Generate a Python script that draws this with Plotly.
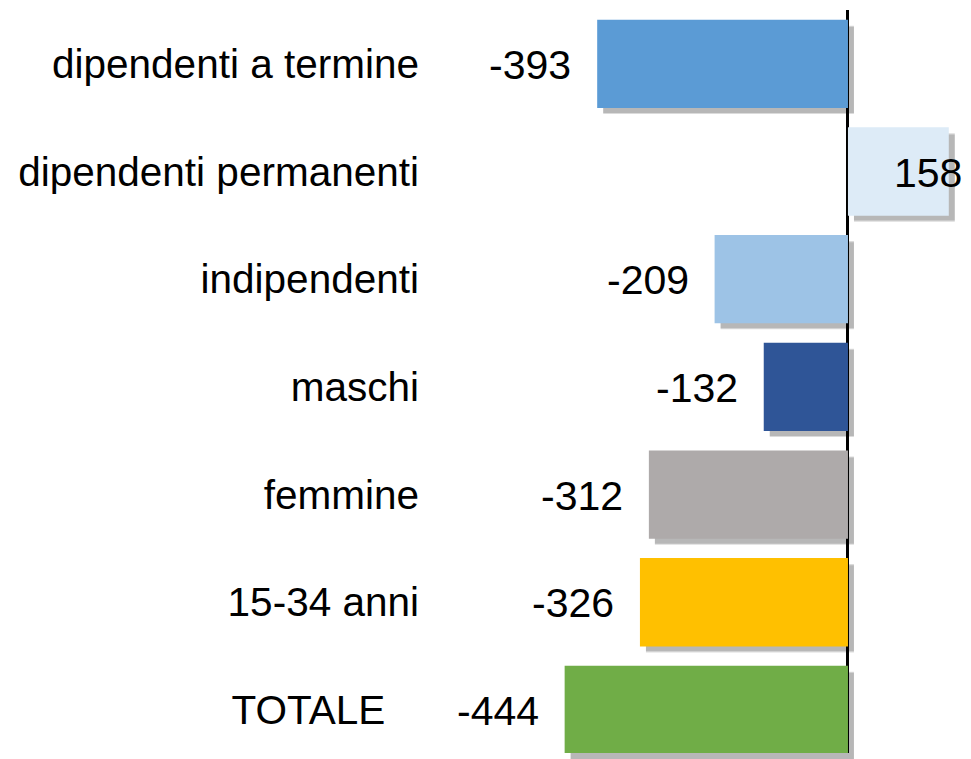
import plotly.graph_objects as go

categories = ["dipendenti a termine", "dipendenti permanenti", "indipendenti",
              "maschi", "femmine", "15-34 anni", "TOTALE"]
tick_labels = ["dipendenti a termine", "dipendenti permanenti", "indipendenti",
               "maschi", "femmine", "15-34 anni", "TOTALE\u00a0\u00a0\u00a0"]
values = [-393, 158, -209, -132, -312, -326, -444]
colors = ["#5B9BD5", "#DDEBF7", "#9DC3E6", "#2F5597", "#AEAAAA", "#FFC000", "#70AD47"]

W, H = 971, 759
ml, mr, mt, mb = 422, 14, 2, 8
pw = W - ml - mr
ph = H - mt - mb
off = 6
dx = off / pw
dy = off / ph

xr = [-655, 174]
yr = [6.40, -0.50]
font = "Liberation Sans, Arial, sans-serif"
fs = 40.5
fsv = 41

fig = go.Figure()
# shadow layers (soft)
fig.add_trace(go.Bar(y=categories, x=values, orientation="h", width=0.82,
                     marker=dict(color="rgba(0,0,0,0.14)", line=dict(width=0)),
                     xaxis="x", yaxis="y", hoverinfo="skip", showlegend=False))
fig.add_trace(go.Bar(y=categories, x=values, orientation="h", width=0.80,
                     marker=dict(color="rgba(0,0,0,0.16)", line=dict(width=0)),
                     xaxis="x", yaxis="y", hoverinfo="skip", showlegend=False))
# main bars
fig.add_trace(go.Bar(y=categories, x=values, orientation="h", width=0.82,
                     marker=dict(color=colors, line=dict(width=0)),
                     xaxis="x2", yaxis="y2", showlegend=False))

annotations = []
for c, v in zip(categories, values):
    annotations.append(dict(x=v, y=c, xref="x2", yref="y2", text=str(v),
                            showarrow=False, xanchor="right",
                            xshift=-24 if v < 0 else 15, yshift=-1,
                            font=dict(family=font, size=fsv, color="#000")))

fig.update_layout(
    width=W, height=H,
    margin=dict(l=ml, r=mr, t=mt, b=mb, pad=0),
    paper_bgcolor="white", plot_bgcolor="rgba(0,0,0,0)",
    font=dict(family=font, size=fs, color="#000"),
    barmode="overlay",
    xaxis=dict(domain=[dx, 1], range=xr, visible=False, anchor="y"),
    yaxis=dict(domain=[0, 1 - dy], range=yr, visible=False, anchor="x",
               categoryorder="array", categoryarray=categories),
    xaxis2=dict(domain=[0, 1 - dx], range=xr, showgrid=False, showticklabels=False,
                zeroline=True, zerolinecolor="#000", zerolinewidth=3, anchor="y2"),
    yaxis2=dict(domain=[dy, 1], range=yr, showgrid=False, ticks="", anchor="x2",
                categoryorder="array", categoryarray=categories,
                tickmode="array", tickvals=categories, ticktext=tick_labels,
                ticklabelstandoff=10, tickfont=dict(family=font, size=fs, color="#000")),
    annotations=annotations,
)

fig.write_html("out.html")
